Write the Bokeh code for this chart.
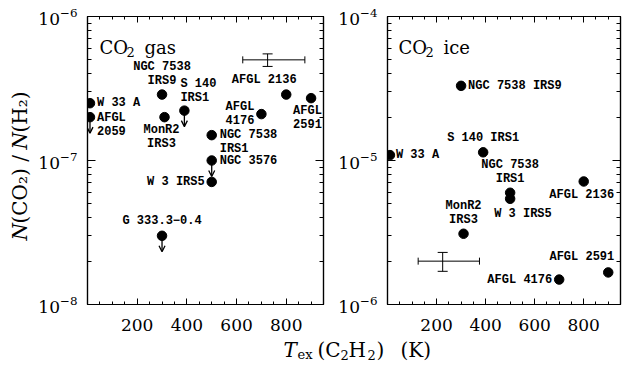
import math
from bokeh.plotting import figure
from bokeh.models import (Range1d, LinearAxis, LogAxis, FixedTicker, ColumnDataSource,
                          Arrow, OpenHead, Whisker, TeeHead, CustomJSTickFormatter)
from bokeh.layouts import row, column
from bokeh.embed import file_html
from bokeh.resources import INLINE
from bokeh.core.properties import value

# ---------------- data ----------------
gas_names = ["W 33 A", "AFGL\n2059", "NGC 7538\nIRS9", "MonR2\nIRS3", "S 140\nIRS1",
             "NGC 7538\nIRS1", "NGC 3576", "W 3 IRS5", "AFGL\n4176", "AFGL 2136",
             "AFGL\n2591", "G 333.3\u22120.4"]
gas_tex = [10, 10, 300, 310, 390, 500, 500, 500, 700, 800, 900, 300]
gas_ratio = [2.5e-7, 2.0e-7, 2.87e-7, 2.0e-7, 2.22e-7, 1.5e-7, 1.0e-7, 7.1e-8,
             2.1e-7, 2.87e-7, 2.71e-7, 3.0e-8]
gas_upper_limit = [False, True, False, False, True, False, True, False,
                   False, False, False, True]

ice_names = ["NGC 7538 IRS9", "W 33 A", "S 140 IRS1", "NGC 7538\nIRS1", "W 3 IRS5",
             "AFGL 2136", "MonR2\nIRS3", "AFGL 4176", "AFGL 2591"]
ice_tex = [300, 10, 390, 500, 500, 800, 310, 700, 900]
ice_ratio = [3.3e-5, 1.09e-5, 1.14e-5, 5.97e-6, 5.42e-6, 7.15e-6, 3.1e-6, 1.49e-6, 1.67e-6]
ice_upper_limit = [False] * 9

# typical error bars
gas_err_tex = [725]
gas_err_tex_range = [625, 875]
gas_err_ratio = [5.0e-7]
gas_err_ratio_range = [4.5e-7, 5.5e-7]

ice_err_tex = [225]
ice_err_tex_range = [125, 375]
ice_err_ratio = [2.0e-6]
ice_err_ratio_range = [1.7e-6, 2.3e-6]

x_major = [200, 400, 600, 800]
gas_decades = [-8, -7, -6]
ice_decades = [-6, -5, -4]

# ---------------- label layout (pixels) ----------------
gas_dx = [7, 7, 0, -3, -4, 8, 8, -7, -7, -22, -18, 0]
gas_dy = [0, -6, -7, 6, -6, -7, 0, 0, 0, -8, 6, -8]
gas_align = ["left", "left", "center", "center", "left", "left", "left", "right",
             "right", "center", "left", "center"]
gas_base = ["middle", "top", "bottom", "top", "bottom", "top", "middle", "middle",
            "middle", "bottom", "top", "bottom"]

ice_dx = [7, 6, 0, 0, -16, -2, 0, -7, 6]
ice_dy = [0, 0, -7, -7, 8, 7, -7, 0, -8]
ice_align = ["left", "left", "center", "center", "left", "center", "center", "right", "right"]
ice_base = ["middle", "middle", "bottom", "bottom", "top", "top", "bottom", "middle", "bottom"]

SERIF = value("DejaVu Serif")
MONO = value("Liberation Mono")
FRAME_H = 288
TOP_B = 16
BOT_B = 34
FIG_H = TOP_B + FRAME_H + BOT_B
PX_PER_DECADE = FRAME_H / 2.0


def empty_fmt():
    return CustomJSTickFormatter(code="return ''")


def make_panel(title_word, title_dx, names, tex, ratio, upper, dx, dy, align, base,
               err_x, err_x_rng, err_y, err_y_rng, decades,
               frame_w, b_left, b_right):
    ylo, yhi = 10.0 ** decades[0], 10.0 ** decades[-1]
    p = figure(frame_width=frame_w, frame_height=FRAME_H,
               x_range=Range1d(0, 950), y_range=Range1d(ylo, yhi),
               y_axis_type="log", output_backend="svg", toolbar_location=None,
               min_border_left=b_left, min_border_right=b_right,
               min_border_top=TOP_B, min_border_bottom=BOT_B,
               background_fill_color="white", border_fill_color="white")
    p.grid.visible = False
    p.outline_line_color = "black"
    p.outline_line_width = 1.2

    xt = FixedTicker(ticks=x_major, minor_ticks=list(range(0, 951, 50)))
    yt = FixedTicker(ticks=[10.0 ** d for d in decades],
                     minor_ticks=[m * 10.0 ** d for d in decades[:-1] for m in range(2, 10)])

    xa = p.xaxis[0]
    xa.ticker = xt
    ya = p.yaxis[0]
    ya.ticker = yt

    top = LinearAxis(ticker=xt, formatter=empty_fmt())
    right = LogAxis(ticker=yt, formatter=empty_fmt())
    p.add_layout(top, "above")
    p.add_layout(right, "right")

    for ax in (xa, top):
        ax.major_tick_in = 6
        ax.major_tick_out = 0
        ax.minor_tick_in = 3
        ax.minor_tick_out = 0
    for ax in (ya, right):
        ax.major_tick_in = 8
        ax.major_tick_out = 0
        ax.minor_tick_in = 4
        ax.minor_tick_out = 0
    for ax in (xa, ya, top, right):
        ax.axis_line_color = "black"
        ax.axis_line_width = 1.2
        ax.major_tick_line_color = "black"
        ax.minor_tick_line_color = "black"
        ax.major_tick_line_width = 1
        ax.minor_tick_line_width = 1
        ax.major_label_text_font = "DejaVu Serif"
        ax.major_label_text_color = "black"
    for ax in (top, right):
        ax.major_label_text_font_size = "1px"
        ax.major_label_standoff = 0
    xa.major_label_text_font_size = "17px"
    xa.major_label_standoff = 14
    ya.major_label_text_font_size = "17px"
    ya.major_label_standoff = 10

    src = ColumnDataSource(dict(x=tex, y=ratio, name=names, dx=dx, dy=dy,
                                align=align, base=base))
    p.scatter("x", "y", source=src, size=9.5, marker="circle",
              fill_color="black", line_color="black")
    p.text("x", "y", text="name", source=src, x_offset="dx", y_offset="dy",
           text_align="align", text_baseline="base",
           text_font=MONO, text_font_style="bold", text_font_size="12px",
           text_line_height=1.0, text_color="black")

    # upper limits
    ux = [t for t, u in zip(tex, upper) if u]
    uy = [r for r, u in zip(ratio, upper) if u]
    if ux:
        f = 10.0 ** (-16.0 / PX_PER_DECADE)
        asrc = ColumnDataSource(dict(x=ux, y=uy, y2=[v * f for v in uy]))
        p.add_layout(Arrow(end=OpenHead(size=6, line_width=1.3, line_color="black"),
                           x_start="x", y_start="y", x_end="x", y_end="y2",
                           source=asrc, line_width=1.3, line_color="black"))

    # typical error bar
    hsrc = ColumnDataSource(dict(base=err_y, lower=[err_x_rng[0]], upper=[err_x_rng[1]]))
    p.add_layout(Whisker(source=hsrc, base="base", lower="lower", upper="upper",
                         dimension="width", line_color="black", line_width=1,
                         lower_head=TeeHead(size=7, line_color="black", line_width=1),
                         upper_head=TeeHead(size=7, line_color="black", line_width=1)))
    vsrc = ColumnDataSource(dict(base=err_x, lower=[err_y_rng[0]], upper=[err_y_rng[1]]))
    p.add_layout(Whisker(source=vsrc, base="base", lower="lower", upper="upper",
                         dimension="height", line_color="black", line_width=1,
                         lower_head=TeeHead(size=10, line_color="black", line_width=1),
                         upper_head=TeeHead(size=10, line_color="black", line_width=1)))

    # panel title: CO_2 <word>
    p.text([0], [yhi], text=["CO"], x_offset=title_dx, y_offset=31,
           text_align="left", text_baseline="alphabetic",
           text_font=SERIF, text_font_size="18px", text_color="black")
    p.text([0], [yhi], text=["2"], x_offset=title_dx + 27, y_offset=35,
           text_align="left", text_baseline="alphabetic",
           text_font=SERIF, text_font_size="13px", text_color="black")
    p.text([0], [yhi], text=[title_word], x_offset=title_dx + 45, y_offset=31,
           text_align="left", text_baseline="alphabetic",
           text_font=SERIF, text_font_size="18px", text_color="black")
    return p


p_gas = make_panel("gas", 12, gas_names, gas_tex, gas_ratio, gas_upper_limit,
                   gas_dx, gas_dy, gas_align, gas_base,
                   gas_err_tex, gas_err_tex_range, gas_err_ratio, gas_err_ratio_range,
                   gas_decades, 236, 54, 5)
p_ice = make_panel("ice", 11, ice_names, ice_tex, ice_ratio, ice_upper_limit,
                   ice_dx, ice_dy, ice_align, ice_base,
                   ice_err_tex, ice_err_tex_range, ice_err_ratio, ice_err_ratio_range,
                   ice_decades, 233, 59, 2)


def blank(w, h):
    b = figure(frame_width=w, frame_height=h, x_range=Range1d(0, w), y_range=Range1d(h, 0),
               output_backend="svg", toolbar_location=None,
               min_border_left=0, min_border_right=0, min_border_top=0, min_border_bottom=0,
               background_fill_color="white", border_fill_color="white")
    b.axis.visible = False
    b.grid.visible = False
    b.outline_line_color = None
    return b


# y-axis title: N(CO2)/N(H2), rotated, built from pieces
p_y = blank(33, FIG_H)
ylab_pieces = ["N", "(CO\u2082) / ", "N", "(H\u2082)"]
ylab_styles = ["italic", "normal", "italic", "normal"]
ylab_widths = [17, 74, 17, 41]
ypos = 224.0
for txt, sty, w in zip(ylab_pieces, ylab_styles, ylab_widths):
    p_y.text([19], [ypos], text=[txt], angle=math.pi / 2, text_align="left",
             text_baseline="alphabetic", text_font=SERIF, text_font_style=sty,
             text_font_size="20px", text_color="black")
    ypos -= w

# x-axis title: T_ex(C2H2) (K), built from pieces
p_x = blank(622, 30)
xlab_pieces = ["T", "ex", "(C", "2", "H", "2", ")", "(K)"]
xlab_x = [283, 297, 317, 340, 348, 367, 376, 400]
xlab_base = [11, 16, 11, 16, 11, 16, 11, 11]
xlab_size = ["20px", "13px", "20px", "13px", "20px", "13px", "20px", "20px"]
xlab_style = ["italic", "normal", "normal", "normal", "normal", "normal", "normal", "normal"]
for txt, x, yb, sz, sty in zip(xlab_pieces, xlab_x, xlab_base, xlab_size, xlab_style):
    p_x.text([x], [yb], text=[txt], text_align="left", text_baseline="alphabetic",
             text_font=SERIF, text_font_style=sty, text_font_size=sz, text_color="black")

layout = column(row(p_y, p_gas, p_ice), p_x)
open("out.html", "w").write(file_html(layout, INLINE))
